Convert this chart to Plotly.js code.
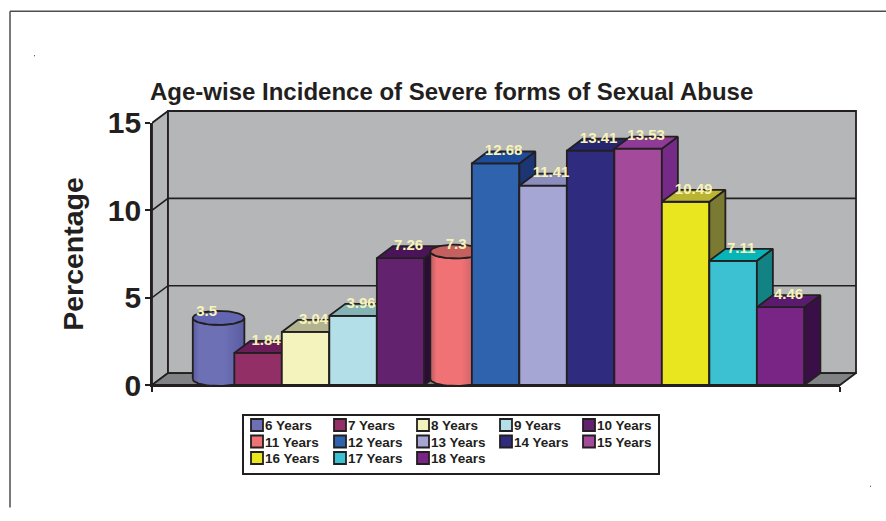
<!DOCTYPE html>
<html><head><meta charset="utf-8">
<script src="https://cdn.plot.ly/plotly-3.0.1.min.js"></script>
<style>html,body{margin:0;padding:0;background:#fff}</style>
</head><body><div id="chart" style="width:886px;height:521px"></div>
<script>
const categories=['6 Years','7 Years','8 Years','9 Years','10 Years','11 Years','12 Years','13 Years','14 Years','15 Years','16 Years','17 Years','18 Years'];
const values=[3.5,1.84,3.04,3.96,7.26,7.3,12.68,11.41,13.41,13.53,10.49,7.11,4.46];
const frontColors=['#6d70b5','#922f67','#f5f3bd','#b3dfe8','#62226d','#f07274','#2f63ae','#a5a6d4','#2f2c80','#a34a9a','#e9e51e','#3cc1d3','#792585'];
const topColors=['#6266b0','#6a1d58','#b3b48f','#84b3b5','#4a1458','#c4605f','#1d4c9b','#8a8dbe','#262570','#8e3a96','#b9b432','#07b5b8','#5a1a6d'];
const sideColors=['#595ca0','#5a1850','#8f8f70','#6d9498','#2e0a3a','#b65a62','#1c3573','#6f7099','#1b1a55','#752a88','#7b7a33','#128284','#3a0f47'];
const cylinders=[0,5];
const tickVals=[0,5,10,15];
const ink='#231f20', wallColor='#b5b6b8', floorColor='#808285', labelColor='#f8f4b8';
const font='Liberation Sans, Arial';
const dx=0.337, dy=0.684, xMin=-1.233, xMax=13.25, yMax=15;
// pixel frame: outer plot 152..860 x 105..393; front axes 152..840 x 123..386
const L=152, R=860, T=105, B=393, fR=840, fT=123, fB=386;
const W=R-L, H=B-T, unitX=(fR-L)/(xMax-xMin), unitY=(fB-fT)/yMax;
const px=x=>(x-L)/W, py=y=>(B-y)/H;

const traces=[];
const onWall={xaxis:'x2',yaxis:'y2'};
function poly(xs,ys,fill,extra){return Object.assign({type:'scatter',mode:'lines',x:xs.concat(xs[0]),y:ys.concat(ys[0]),fill:'toself',fillcolor:fill,line:{color:ink,width:1.8},cliponaxis:false,showlegend:false,hoverinfo:'skip'},extra||{});}
// front axes frame (owns the visible ticks and title)
traces.push({type:'scatter',mode:'lines',x:[xMin,xMin],y:[0,yMax],line:{color:ink,width:1.8},showlegend:false,hoverinfo:'skip'});
// walls and floor
traces.push(poly([xMin,xMin+dx,xMin+dx,xMin],[0,dy,yMax+dy,yMax],wallColor,onWall));
traces.push(poly([xMin+dx,xMax+dx,xMax+dx,xMin+dx],[dy,dy,yMax+dy,yMax+dy],wallColor,onWall));
traces.push(poly([xMin,xMin+dx,xMax+dx,xMax],[0,dy,dy,0],floorColor,onWall));
tickVals.slice(1,3).forEach(v=>traces.push(Object.assign({type:'scatter',mode:'lines',x:[xMin,xMin+dx,xMax+dx],y:[v,v+dy,v+dy],line:{color:ink,width:1.6},showlegend:false,hoverinfo:'skip'},onWall)));

const layout={
  width:886,height:521,margin:{l:L,r:886-R,t:T,b:521-B,pad:0},
  paper_bgcolor:'#fff',plot_bgcolor:'rgba(0,0,0,0)',barmode:'overlay',showlegend:true,
  title:{text:'Age-wise Incidence of Severe forms of Sexual Abuse',x:150/886,xanchor:'left',xref:'container',y:1-92/521,yref:'container',yanchor:'middle',font:{family:font,size:24,color:ink,weight:700}},
  xaxis:{domain:[0,(fR-L)/W],anchor:'y',range:[xMin,xMax],tickmode:'array',tickvals:[xMin,xMax],showticklabels:false,ticks:'outside',ticklen:5,tickwidth:1.6,tickcolor:ink,showline:true,linecolor:ink,linewidth:1.8,showgrid:false,zeroline:false,fixedrange:true},
  yaxis:{domain:[py(fB),py(fT)],anchor:'x',range:[0,yMax],tickmode:'array',tickvals:tickVals,ticks:'outside',ticklen:5,tickwidth:1.6,tickcolor:ink,showline:true,linecolor:ink,linewidth:1.8,showgrid:false,zeroline:false,fixedrange:true,ticklabelstandoff:-2,
    tickfont:{family:font,size:30,color:ink,weight:700},
    title:{text:'Percentage',standoff:16,font:{family:font,size:28.5,color:ink,weight:700}}},
  xaxis2:{domain:[0,1],anchor:'y2',range:[xMin,xMin+W/unitX],visible:false,fixedrange:true},
  yaxis2:{domain:[0,1],anchor:'x2',range:[-(B-fB)/unitY,(fB-T)/unitY],visible:false,fixedrange:true},
  legend:{orientation:'h',x:px(242),xanchor:'left',y:py(413.5),yanchor:'top',entrywidth:83,entrywidthmode:'pixels',bgcolor:'#fff',bordercolor:ink,borderwidth:2,traceorder:'normal',font:{family:font,size:13.5,color:ink,weight:700}},
  shapes:[
    {type:'line',xref:'paper',yref:'paper',x0:px(10),x1:px(10),y0:py(509),y1:py(11),line:{color:'#4d4d4f',width:1.5}},
    {type:'line',xref:'paper',yref:'paper',x0:px(10),x1:px(886),y0:py(11),y1:py(11),line:{color:'#4d4d4f',width:1.5}},
    {type:'rect',xref:'paper',yref:'paper',x0:px(34),x1:px(35),y0:py(55),y1:py(56),line:{width:0},fillcolor:'#333'},
    {type:'rect',xref:'paper',yref:'paper',x0:px(870),x1:px(871),y0:py(487),y1:py(488),line:{width:0},fillcolor:'#333'}
  ]
};

function addOverlay(n){
  layout['xaxis'+n]={overlaying:'x2',anchor:'y'+n,range:layout.xaxis2.range,visible:false,fixedrange:true};
  layout['yaxis'+n]={overlaying:'y2',anchor:'x'+n,range:layout.yaxis2.range,visible:false,fixedrange:true};
}
values.forEach((v,i)=>{
  const n=i+3; addOverlay(n);
  const ax={xaxis:'x'+n,yaxis:'y'+n};
  const isCyl=cylinders.includes(i);
  traces.push(Object.assign({type:'bar',name:categories[i],x:[isCyl?i+dx/2:i],y:[v],width:[isCyl?0.6:1],marker:{color:frontColors[i],line:{color:ink,width:1.8}},cliponaxis:false,hoverinfo:'x+y'},ax));
  if(isCyl){
    const cx=i+dx/2, rx=0.543, ry=0.4, yTop=v+dy/2, yBot=dy/2;
    const steps=[...Array(41).keys()].map(k=>k/40*Math.PI);
    const bodyX=steps.map(t=>cx-rx*Math.cos(t)), bodyY=steps.map(t=>yBot-ry*Math.sin(t));
    const backX=steps.map(t=>cx+rx*Math.cos(t)), backY=steps.map(t=>yTop-ry*Math.sin(t));
    traces.push(poly(bodyX.concat(backX),bodyY.concat(backY),frontColors[i],Object.assign({fillgradient:{type:'horizontal',colorscale:[[0,sideColors[i]],[0.12,frontColors[i]],[0.6,frontColors[i]],[1,sideColors[i]]]}},ax)));
    const ex=[...Array(81).keys()].map(k=>cx+rx*Math.cos(k/80*2*Math.PI)), ey=[...Array(81).keys()].map(k=>yTop+ry*Math.sin(k/80*2*Math.PI));
    traces.push(poly(ex,ey,topColors[i],ax));
  }else{
    traces.push(poly([i+.5,i+.5+dx,i+.5+dx,i+.5],[0,dy,v+dy,v],sideColors[i],ax));
    traces.push(poly([i-.5,i-.5+dx,i+.5+dx,i+.5],[v,v+dy,v+dy,v],topColors[i],ax));
  }
});
addOverlay(16);
const labelNudge=values.map((v,i)=>i===0?-0.25:0);
traces.push({type:'scatter',mode:'text',xaxis:'x16',yaxis:'y16',x:values.map((v,i)=>i+dx/2+labelNudge[i]),y:values.map(v=>v+dy),text:values.map(String),textposition:'middle center',textfont:{family:font,size:15,color:labelColor,weight:700},cliponaxis:false,showlegend:false,hoverinfo:'skip'});

Plotly.newPlot('chart',traces,layout,{displayModeBar:false,responsive:false}).then(gd=>{
  // tighten the native legend to the reference's compact 5-column grid
  gd.querySelector('.legend').setAttribute('transform','translate(242,413.5)');
  gd.querySelectorAll('.legend .traces').forEach((g,i)=>{
    g.setAttribute('transform','translate('+(i%5*83-5)+','+(Math.floor(i/5)*16.5+11.5)+')');
    const t=g.querySelector('.legendtext'); if(t) t.setAttribute('x',28);
  });
  const bg=gd.querySelector('.legend .bg'); if(bg){bg.setAttribute('width',416);bg.setAttribute('height',59);}
});
</script></body></html>
